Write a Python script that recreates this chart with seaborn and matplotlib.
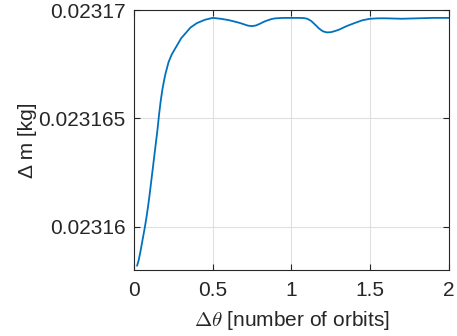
import matplotlib
matplotlib.use("Agg")
import matplotlib.pyplot as plt
import seaborn as sns
import pandas as pd
from matplotlib.ticker import FixedLocator, FixedFormatter

# Mass change versus angular travel
dtheta = [0.02, 0.03, 0.04, 0.05, 0.06, 0.07, 0.08, 0.09, 0.10, 0.11,
          0.12, 0.13, 0.14, 0.15, 0.16, 0.17, 0.18, 0.19, 0.20, 0.22,
          0.24, 0.26, 0.28, 0.30, 0.33, 0.36, 0.40, 0.45, 0.50, 0.55,
          0.60, 0.65, 0.675, 0.70, 0.725, 0.75, 0.775, 0.80, 0.825, 0.85,
          0.875, 0.90, 0.95, 1.00, 1.05, 1.08, 1.10, 1.125, 1.15, 1.175,
          1.20, 1.225, 1.25, 1.275, 1.30, 1.35, 1.40, 1.45, 1.50, 1.55,
          1.60, 1.70, 1.80, 1.90, 2.00]
dmass = [0.0231582, 0.02315845, 0.0231588, 0.0231592, 0.0231596,
         0.0231600, 0.02316045, 0.02316095, 0.0231615, 0.0231621,
         0.0231627, 0.0231633, 0.0231639, 0.0231645, 0.0231652,
         0.0231658, 0.0231663, 0.0231667, 0.02316705, 0.0231676,
         0.02316795, 0.0231682, 0.02316845, 0.0231687, 0.02316895,
         0.0231692, 0.0231694, 0.02316955, 0.02316964, 0.0231696,
         0.02316954, 0.02316945, 0.0231694, 0.02316934, 0.02316928,
         0.02316926, 0.02316929, 0.02316937, 0.02316946, 0.02316953,
         0.02316959, 0.02316962, 0.02316964, 0.02316964, 0.02316964,
         0.02316963, 0.0231696, 0.0231695, 0.02316933, 0.02316915,
         0.02316902, 0.02316897, 0.02316898, 0.02316903, 0.02316909,
         0.02316926, 0.0231694, 0.02316953, 0.0231696, 0.02316962,
         0.02316962, 0.0231696, 0.02316962, 0.02316964, 0.02316964]

xticks = [0, 0.5, 1, 1.5, 2]
xticklabels = ["0", "0.5", "1", "1.5", "2"]
yticks = [0.02316, 0.023165, 0.02317]
yticklabels = ["0.02316", "0.023165", "0.02317"]

sns.set_theme(style="whitegrid")
plt.rcParams["font.family"] = ["Liberation Sans", "DejaVu Sans"]
plt.rcParams["mathtext.fontset"] = "cm"

df = pd.DataFrame({"dtheta": dtheta, "dmass": dmass})

fig = plt.figure(figsize=(4.57, 3.36), dpi=100)
ax = fig.add_axes([0.293, 0.196, 0.6895, 0.774])
sns.lineplot(data=df, x="dtheta", y="dmass", ax=ax, color="#0072BD",
             linewidth=1.3)

ax.set_xlim(0, 2)
ax.set_ylim(0.023158, 0.02317)
ax.xaxis.set_major_locator(FixedLocator(xticks))
ax.xaxis.set_major_formatter(FixedFormatter(xticklabels))
ax.yaxis.set_major_locator(FixedLocator(yticks))
ax.yaxis.set_major_formatter(FixedFormatter(yticklabels))

ax.set_facecolor("white")
ax.grid(True, color="#DFDFDF", linewidth=0.8)
for s in ax.spines.values():
    s.set_visible(True)
    s.set_color("#262626")
    s.set_linewidth(0.8)

ax.tick_params(axis="both", direction="in", length=4, width=0.8,
               color="#262626", labelcolor="#262626", labelsize=15,
               top=True, right=True, bottom=True, left=True)
ax.tick_params(axis="x", pad=8)
ax.tick_params(axis="y", pad=6)

ax.set_xlabel(r"$\Delta\theta$ [number of orbits]", fontsize=15,
              color="#262626", labelpad=6)
ax.set_ylabel("Δ m [kg]", fontsize=15, color="#262626", labelpad=1)

fig.savefig("out.png", dpi=100, facecolor="white")
